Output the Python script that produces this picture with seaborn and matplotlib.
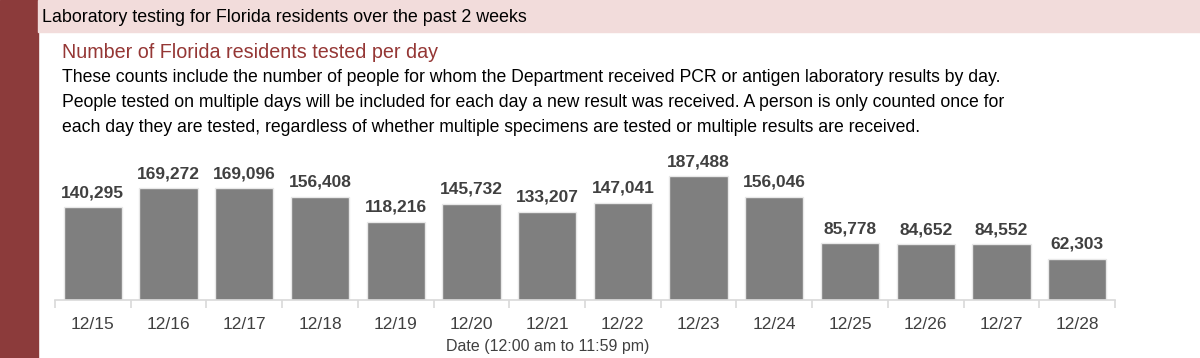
import matplotlib
matplotlib.use("Agg")
import matplotlib.pyplot as plt
import seaborn as sns
import pandas as pd
from matplotlib.patches import Rectangle

# data
dates = ["12/15", "12/16", "12/17", "12/18", "12/19", "12/20", "12/21",
         "12/22", "12/23", "12/24", "12/25", "12/26", "12/27", "12/28"]
tested = [140295, 169272, 169096, 156408, 118216, 145732, 133207,
          147041, 187488, 156046, 85778, 84652, 84552, 62303]

header = "Laboratory testing for Florida residents over the past 2 weeks"
subtitle = "Number of Florida residents tested per day"
note = ["These counts include the number of people for whom the Department received PCR or antigen laboratory results by day.",
        "People tested on multiple days will be included for each day a new result was received. A person is only counted once for",
        "each day they are tested, regardless of whether multiple specimens are tested or multiple results are received."]
xlabel = "Date (12:00 am to 11:59 pm)"

df = pd.DataFrame({"date": dates, "tested": tested})

sns.set_style("white")
plt.rcParams['font.family'] = ['Liberation Sans', 'DejaVu Sans']

fig = plt.figure(figsize=(12, 3.58), dpi=100)

# background bands
fig.patches.append(Rectangle((0, 0), 38/1200, 1, transform=fig.transFigure,
                             color="#8C3B3B", zorder=0))
fig.patches.append(Rectangle((38/1200, 1 - 32/358), 1, 32/358, transform=fig.transFigure,
                             color="#F2DCDB", zorder=0))

fig.text(42/1200, 1 - 17/358, header, fontsize=12.9, color="black", va="center")
fig.text(62/1200, 1 - 52/358, subtitle, fontsize=14.2, color="#953735", va="center")
for i, line in enumerate(note):
    fig.text(62/1200, 1 - (78 + 24.5 * i)/358, line, fontsize=12.7, color="black", va="center")

ax = fig.add_axes([55/1200, 58/358, 1060/1200, 160/358])
sns.barplot(data=df, x="date", y="tested", color="#7F7F7F", saturation=1,
            width=0.77, edgecolor="#E8E8E8", linewidth=1, ax=ax)
ax.set_ylim(0, 242000)
ax.set_xlim(-0.5, len(dates) - 0.5)

for p, v in zip(ax.patches, tested):
    ax.annotate(f"{v:,}", (p.get_x() + p.get_width() / 2, p.get_height()),
                ha="center", va="bottom", xytext=(0, 5), textcoords="offset points",
                fontsize=12.5, color="#404040", fontweight="bold")

sns.despine(ax=ax, left=True)
ax.spines["bottom"].set_color("#D9D9D9")
ax.spines["bottom"].set_linewidth(1.2)
ax.set_yticks([])
ax.set_xticks(range(len(dates)))
ax.set_xticklabels(dates, fontsize=12.5, color="#404040")
ax.set_xticks([i - 0.5 for i in range(len(dates) + 1)], minor=True)
ax.tick_params(axis="x", which="major", bottom=True, length=0, pad=12)
ax.tick_params(axis="x", which="minor", bottom=True, length=6, color="#D9D9D9", width=1.2)
ax.set_xlabel("")
ax.set_ylabel("")
ax.patch.set_alpha(0)

fig.text(548/1200, 1 - 347/358, xlabel, fontsize=11.5, color="#404040", ha="center", va="center")

fig.savefig("out.png", dpi=100)
